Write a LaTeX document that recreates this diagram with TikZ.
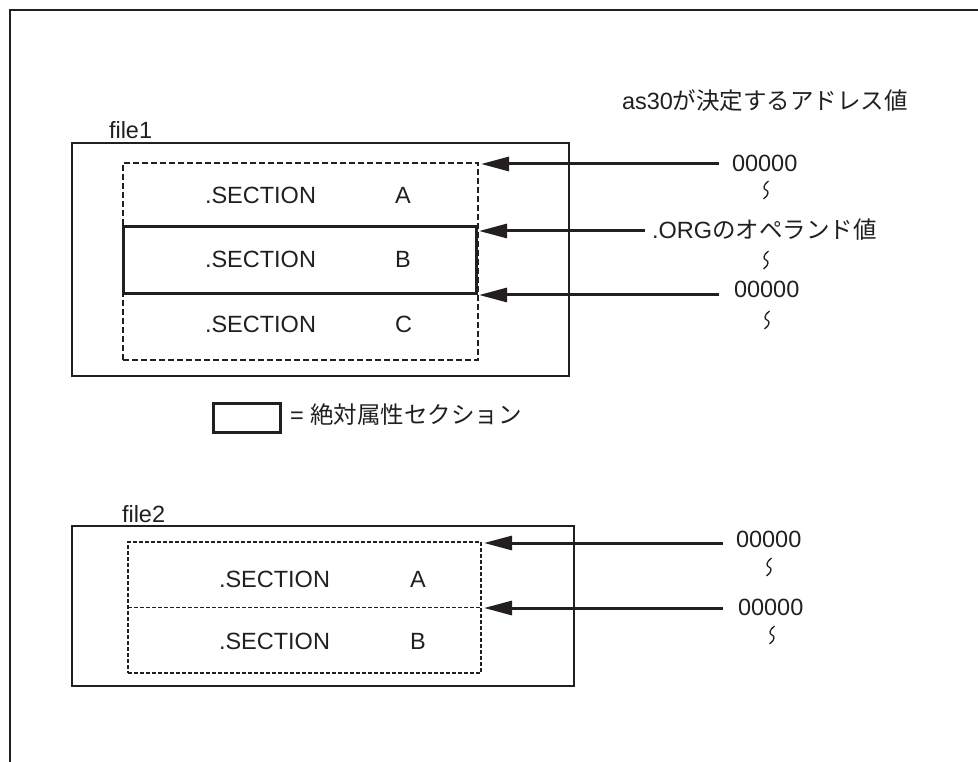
\documentclass[tikz,border=0pt]{standalone}
\usepackage{fontspec}
\setmainfont{Liberation Sans}
\newfontfamily\cjk{Noto Sans CJK JP}
\usetikzlibrary{arrows.meta,calc}
\definecolor{ink}{HTML}{231F20}
\begin{document}
\begin{tikzpicture}[x=1pt,y=-1pt,
  font=\fontsize{23.5}{28}\selectfont,
  every node/.style={inner sep=0pt,outer sep=0pt,text=ink},
  lbl/.style={anchor=base west},
  filebox/.style={draw=ink,line width=2pt,anchor=north west},
  dashbox1/.style={draw=ink,line width=1.6pt,dash pattern=on 6pt off 3pt,anchor=north west},
  dashbox2/.style={draw=ink,line width=1.2pt,dash pattern=on 4pt off 2pt,anchor=north west},
  absbox/.style={draw=ink,line width=3pt,anchor=north west},
  arr/.style={draw=ink,line width=3pt,-{Triangle[length=28pt,width=14pt]}},
  brk/.pic={\draw[ink,line width=1.3pt] (2.5,-9) .. controls (-3,-5) and (-3,-1) .. (0,0) .. controls (3,1) and (3,5) .. (-2.5,9);}
]
\useasboundingbox (0,0) rectangle (978,762);
% frame
\draw[ink,line width=2.5pt] (10,762) -- (10,10) -- (978,10);

% heading of address values
\node[lbl] (head) at (622,110) {as30{\cjk が決定するアドレス値}};

% file1
\node[lbl] (f1lab) at (109,139) {file1};
\node[filebox,minimum width=497pt,minimum height=233pt] (file1) at (72,143) {};
\node[dashbox1,minimum width=355pt,minimum height=197pt] (dash1) at (123,163) {};
\node[absbox,minimum width=353pt,minimum height=67pt] (secB) at (123,227) {};
\node[lbl] (s1a) at (205,204) {.SECTION};
\node[lbl] (l1a) at (395,204) {A};
\node[lbl] (s1b) at (205,268) {.SECTION};
\node[lbl] (l1b) at (395,268) {B};
\node[lbl] (s1c) at (205,332) {.SECTION};
\node[lbl] (l1c) at (395,332) {C};

% file1 values
\node[lbl] (v1) at (732,172) {00000};
\node[lbl] (org) at (652,239) {.ORG{\cjk のオペランド値}};
\node[lbl] (v2) at (734,298) {00000};
\pic at (766,190) {brk};
\pic at (766,260) {brk};
\pic at (767,320) {brk};
\coordinate (a1) at (719,164);
\coordinate (a2) at (645,231);
\coordinate (a3) at (719,295);
\draw[arr] (a1) -- ($(a1 -| dash1.east)+(3,0)$);
\draw[arr] (a2) -- ($(a2 -| secB.east)+(3,0)$);
\draw[arr] (a3) -- ($(a3 -| secB.east)+(3,0)$);

% legend
\node[absbox,minimum width=67pt,minimum height=29pt] (leg) at (213,403) {};
\node[lbl] (legt) at (290,423) {= {\cjk 絶対属性セクション}};

% file2
\node[lbl] (f2lab) at (122,522) {file2};
\node[filebox,minimum width=502pt,minimum height=160pt] (file2) at (72,526) {};
\node[dashbox2,minimum width=353pt,minimum height=131pt] (dash2) at (128,542) {};
\draw[ink,line width=1.2pt,dash pattern=on 4pt off 2pt] (dash2.west) -- (dash2.east);
\node[lbl] (s2a) at (219,587) {.SECTION};
\node[lbl] (l2a) at (410,587) {A};
\node[lbl] (s2b) at (219,649) {.SECTION};
\node[lbl] (l2b) at (410,649) {B};

% file2 values
\node[lbl] (v3) at (736,547) {00000};
\node[lbl] (v4) at (738,615) {00000};
\pic at (769,567) {brk};
\pic at (772,635) {brk};
\coordinate (a4) at (723,543);
\coordinate (a5) at (723,608);
\draw[arr] (a4) -- ($(a4 -| dash2.east)+(3,0)$);
\draw[arr] (a5) -- ($(a5 -| dash2.east)+(3,0)$);
\end{tikzpicture}
\end{document}
